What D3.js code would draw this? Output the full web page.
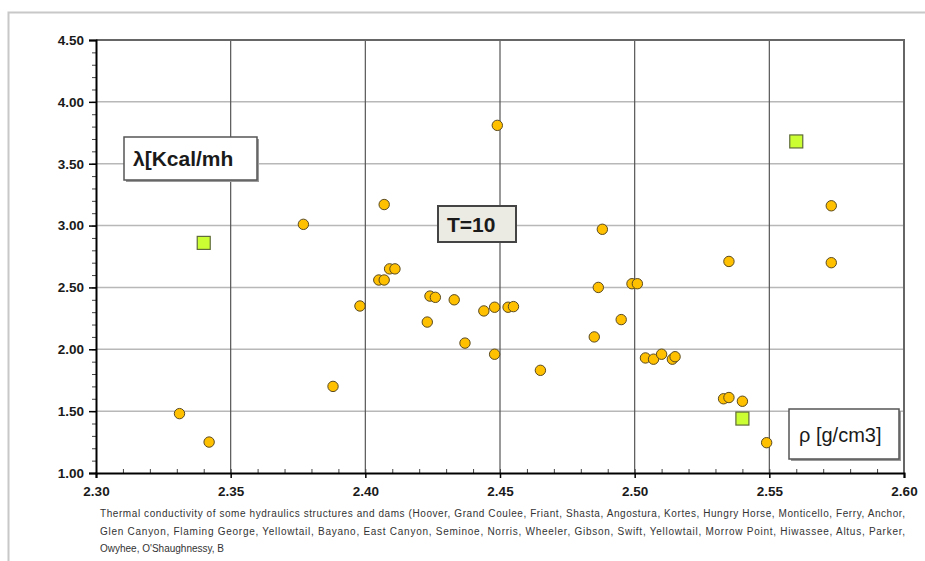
<!DOCTYPE html>
<html>
<head>
<meta charset="utf-8">
<script src="https://cdn.jsdelivr.net/npm/d3@7"></script>
<style>
  body { margin: 0; background: #fff; }
  svg { display: block; font-family: "Liberation Sans", Arial, sans-serif; }
</style>
</head>
<body>
<div id="graph1"></div>
<script>
// measured dams (circles)
const rho = [2.331, 2.342, 2.377, 2.388, 2.398, 2.405, 2.407, 2.409, 2.411, 2.407,
  2.423, 2.424, 2.426, 2.433, 2.437, 2.444, 2.448, 2.448, 2.449, 2.453,
  2.455, 2.465, 2.485, 2.4865, 2.488, 2.495, 2.499, 2.501, 2.504, 2.507,
  2.510, 2.514, 2.515, 2.535, 2.533, 2.535, 2.540, 2.549, 2.573, 2.573]
const lambda = [1.48, 1.25, 3.01, 1.70, 2.35, 2.56, 2.56, 2.65, 2.65, 3.17,
  2.22, 2.43, 2.42, 2.40, 2.05, 2.31, 2.34, 1.96, 3.81, 2.34,
  2.345, 1.83, 2.10, 2.50, 2.97, 2.24, 2.53, 2.53, 1.93, 1.92,
  1.96, 1.92, 1.94, 2.71, 1.60, 1.61, 1.58, 1.245, 3.16, 2.70]

// second series (squares)
const rhoSq = [2.340, 2.540, 2.560]
const lambdaSq = [2.86, 1.44, 3.68]

const xTicks = [2.30, 2.35, 2.40, 2.45, 2.50, 2.55, 2.60]
const yTicks = [1.00, 1.50, 2.00, 2.50, 3.00, 3.50, 4.00, 4.50]

const captionLines = [
  "Thermal conductivity of some hydraulics structures and dams (Hoover, Grand Coulee, Friant, Shasta, Angostura, Kortes, Hungry Horse, Monticello, Ferry, Anchor,",
  "Glen Canyon, Flaming George, Yellowtail, Bayano, East Canyon, Seminoe, Norris, Wheeler, Gibson, Swift, Yellowtail, Morrow Point, Hiwassee, Altus, Parker,",
  "Owyhee, O'Shaughnessy, B"
]

const width = 925, height = 561
const margin = {left: 96, right: 21, top: 40, bottom: 88}

let svg = d3.select("#graph1").append("svg")
    .attr("width", width)
    .attr("height", height)

// outer chart frame (cropped at right and bottom)
svg.append("path")
    .attr("d", `M8.5,${height} V12.5 H${width}`)
    .attr("fill", "none")
    .attr("stroke", "#c8c8c8")
    .attr("stroke-width", 2)

let g = svg.append("g")
    .attr("transform", `translate(${margin.left}, ${margin.top})`)

const w = width - margin.left - margin.right
const h = height - margin.top - margin.bottom

let x = d3.scaleLinear().domain([2.30, 2.60]).range([0, w])
let y = d3.scaleLinear().domain([1.00, 4.50]).range([h, 0])

// gridlines
g.append("g").selectAll("line")
    .data(yTicks.slice(1, -1))
    .enter().append("line")
    .attr("x1", 0).attr("x2", w)
    .attr("y1", d => y(d)).attr("y2", d => y(d))
    .attr("stroke", "#b8b8b8")
    .attr("stroke-width", 1.5)

g.append("g").selectAll("line")
    .data(xTicks.slice(1, -1))
    .enter().append("line")
    .attr("y1", 0).attr("y2", h)
    .attr("x1", d => x(d)).attr("x2", d => x(d))
    .attr("stroke", "#555")
    .attr("stroke-width", 1.2)

// top and right border of plot area
g.append("path")
    .attr("d", `M0,${y(4.5)} H${x(2.6)} V${h}`)
    .attr("fill", "none")
    .attr("stroke", "#666")
    .attr("stroke-width", 2)

// minor ticks
const xMinor = d3.range(231, 260).map(d => d / 100)
const yMinor = d3.range(11, 45).map(d => d / 10)

g.append("g")
    .attr("transform", `translate(0,${h})`)
    .call(d3.axisTop(x).tickValues(xMinor).tickSize(4).tickFormat(""))
    .call(a => a.select(".domain").remove())
    .selectAll("line").attr("stroke", "#444")

g.append("g")
    .call(d3.axisLeft(y).tickValues(yMinor).tickSize(4).tickFormat(""))
    .call(a => a.select(".domain").remove())
    .selectAll("line").attr("stroke", "#444")

// main axes
let xAxis = g.append("g")
    .attr("transform", `translate(0,${h})`)
    .call(d3.axisBottom(x).tickValues(xTicks).tickSize(5).tickPadding(8).tickFormat(d3.format(".2f")))
xAxis.select(".domain").attr("stroke", "#000").attr("stroke-width", 2)
xAxis.selectAll("line").attr("stroke", "#000").attr("stroke-width", 1.5)
xAxis.selectAll("text")
    .attr("font-family", "Liberation Sans, Arial, sans-serif")
    .attr("font-size", 13.5).attr("font-weight", "bold").attr("fill", "#1a1a1a")

let yAxis = g.append("g")
    .call(d3.axisLeft(y).tickValues(yTicks).tickSize(7).tickPadding(5).tickFormat(d3.format(".2f")))
yAxis.select(".domain").attr("stroke", "#000").attr("stroke-width", 2)
yAxis.selectAll("line").attr("stroke", "#000").attr("stroke-width", 1.5)
yAxis.selectAll("text")
    .attr("font-family", "Liberation Sans, Arial, sans-serif")
    .attr("font-size", 13.5).attr("font-weight", "bold").attr("fill", "#1a1a1a")

// label boxes
function labelBox(bx, by, bw, bh, txt, opts) {
    if (opts.shadow) {
        svg.append("rect")
            .attr("x", bx + 2).attr("y", by + 2)
            .attr("width", bw).attr("height", bh)
            .attr("fill", "#9a9a9a")
    }
    svg.append("rect")
        .attr("x", bx).attr("y", by)
        .attr("width", bw).attr("height", bh)
        .attr("fill", opts.fill)
        .attr("stroke", opts.stroke)
        .attr("stroke-width", opts.sw)
    svg.append("text")
        .attr("x", opts.tx).attr("y", opts.ty)
        .attr("font-size", opts.size)
        .attr("font-weight", opts.weight)
        .attr("fill", "#1a1a1a")
        .text(txt)
}

labelBox(124, 137, 133, 43, "λ[Kcal/mh",
    {fill: "#fff", stroke: "#555", sw: 1.5, shadow: true, tx: 133, ty: 166, size: 21, weight: "bold"})
labelBox(438, 206, 78, 36, "T=10",
    {fill: "#ecebe3", stroke: "#444", sw: 2, shadow: false, tx: 447, ty: 232, size: 21, weight: "bold"})
labelBox(789, 409, 110, 50, "ρ [g/cm3]",
    {fill: "#fff", stroke: "#555", sw: 1.5, shadow: true, tx: 799, ty: 442, size: 20, weight: "normal"})

// points
let dots = g.append("g").selectAll("circle").data(rho)
dots.enter()
    .append("circle")
    .attr("cx", d => x(d))
    .attr("cy", (d, i) => y(lambda[i]))
    .attr("r", 5.2)
    .attr("fill", "#ffc000")
    .attr("stroke", "#5a4a20")
    .attr("stroke-width", 1)

const sq = 13
let squares = g.append("g").selectAll("rect").data(rhoSq)
squares.enter()
    .append("rect")
    .attr("x", d => x(d) - sq / 2)
    .attr("y", (d, i) => y(lambdaSq[i]) - sq / 2)
    .attr("width", sq)
    .attr("height", sq)
    .attr("fill", "#ccff33")
    .attr("stroke", "#5f6b3a")
    .attr("stroke-width", 1.2)

// caption under the chart
let caption = svg.append("g")
    .attr("font-family", "Liberation Sans, Arial, sans-serif")
    .attr("font-size", 10)
    .attr("fill", "#333")
caption.selectAll("text").data(captionLines)
    .enter().append("text")
    .attr("x", 100)
    .attr("y", (d, i) => 517 + i * 17.5)
    .attr("textLength", (d, i) => i < 2 ? 805 : null)
    .attr("lengthAdjust", "spacing")
    .text(d => d)
</script>
</body>
</html>
